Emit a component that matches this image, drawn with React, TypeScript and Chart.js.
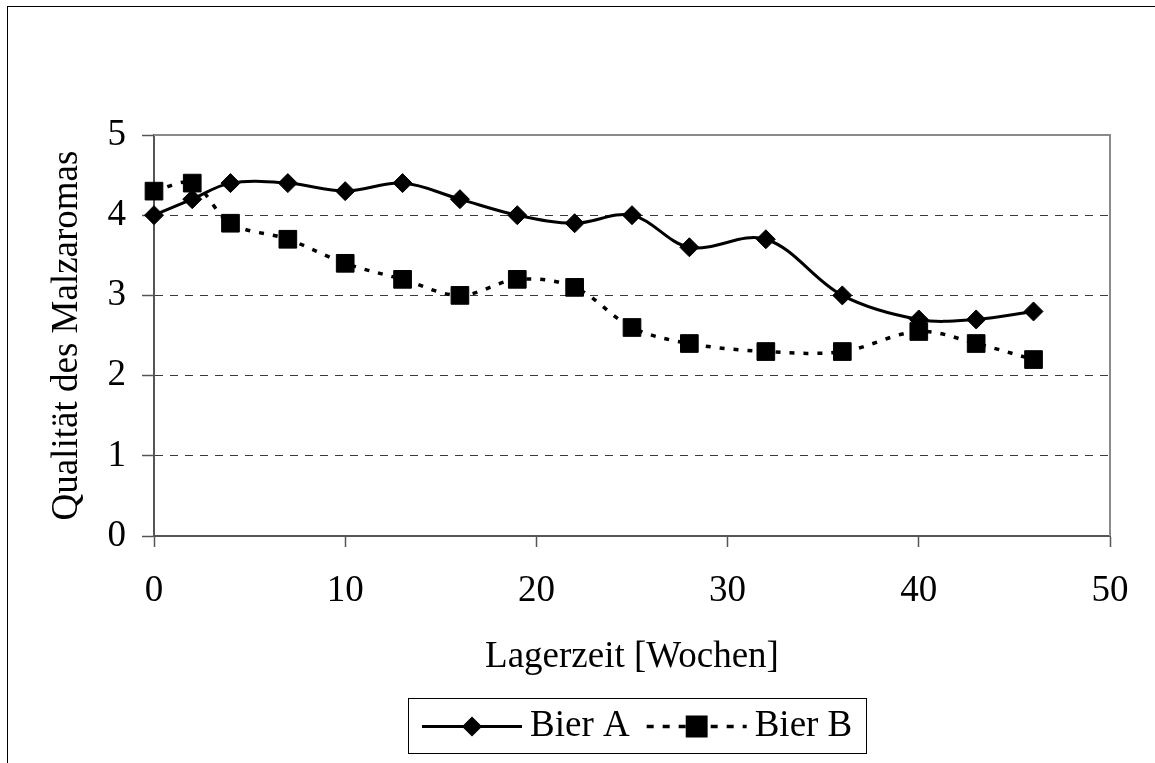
import React, { useEffect, useRef } from "react";
import { Chart, registerables } from "chart.js";
import { drawPoint } from "chart.js/helpers";

Chart.register(...registerables);

// ---- data ----
const weeks = [0, 2, 4, 7, 10, 13, 16, 19, 22, 25, 28, 32, 36, 40, 43, 46];
const bierA = [4.0, 4.2, 4.4, 4.4, 4.3, 4.4, 4.2, 4.0, 3.9, 4.0, 3.6, 3.7, 3.0, 2.7, 2.7, 2.8];
const bierB = [4.3, 4.4, 3.9, 3.7, 3.4, 3.2, 3.0, 3.2, 3.1, 2.6, 2.4, 2.3, 2.3, 2.55, 2.4, 2.2];
const seriesLabels = ["Bier A", "Bier B"];
const xTickValues = [0, 10, 20, 30, 40, 50];
const yTickValues = [0, 1, 2, 3, 4, 5];
const xTitle = "Lagerzeit [Wochen]";
const yTitle = "Qualität des Malzaromas";

const FONT_FAMILY = "'Liberation Serif', 'Times New Roman', serif";
const FONT_SIZE = 37;

const framePlugin = {
  id: "plotFrame",
  beforeDatasetsDraw(chart: any) {
    const { ctx, chartArea: ca } = chart;
    ctx.save();
    ctx.strokeStyle = "#8a8a8a";
    ctx.lineWidth = 2;
    ctx.beginPath();
    ctx.moveTo(ca.left, ca.top);
    ctx.lineTo(ca.right, ca.top);
    ctx.lineTo(ca.right, ca.bottom);
    ctx.stroke();
    ctx.restore();
  },
};

const boxLegendPlugin = {
  id: "boxLegend",
  afterDraw(chart: any, _args: any, opts: any) {
    const { ctx, chartArea: ca } = chart;
    ctx.save();
    ctx.font = `${FONT_SIZE}px ${FONT_FAMILY}`;
    const datasets = chart.data.datasets;
    const widths = datasets.map((ds: any) => ctx.measureText(ds.label).width);
    const pad = 14, symW = 100, gap = 8, itemGap = 17, boxH = 55;
    const total =
      pad * 2 +
      widths.reduce((s: number, w: number) => s + symW + gap + w, 0) +
      itemGap * (datasets.length - 1);
    const cx = (ca.left + ca.right) / 2 + 5;
    const left = Math.round(cx - total / 2);
    const top = Math.round(ca.bottom + 162);
    ctx.lineWidth = 1;
    ctx.strokeStyle = "#000";
    ctx.strokeRect(left + 0.5, top + 0.5, Math.round(total), boxH);
    const cy = top + 28.5;
    let x = left + pad;
    datasets.forEach((ds: any, i: number) => {
      ctx.save();
      ctx.strokeStyle = ds.borderColor;
      ctx.lineWidth = ds.borderWidth;
      ctx.setLineDash(opts.dashes[i] || []);
      ctx.beginPath();
      ctx.moveTo(x, cy);
      ctx.lineTo(x + symW, cy);
      ctx.stroke();
      ctx.setLineDash([]);
      ctx.fillStyle = ds.pointBackgroundColor;
      ctx.strokeStyle = ds.pointBorderColor;
      drawPoint(
        ctx,
        { pointStyle: ds.pointStyle, radius: opts.radii[i], borderWidth: 1, rotation: 0 } as any,
        x + symW / 2,
        cy
      );
      ctx.restore();
      x += symW + gap;
      ctx.fillStyle = "#000";
      ctx.textBaseline = "middle";
      ctx.textAlign = "left";
      ctx.fillText(ds.label, x, cy);
      x += widths[i] + itemGap;
    });
    ctx.restore();
  },
};

export default function App() {
  const canvasRef = useRef<HTMLCanvasElement | null>(null);

  useEffect(() => {
    if (!canvasRef.current) return;
    Chart.defaults.font.family = FONT_FAMILY;
    Chart.defaults.color = "#000";
    const tickFont = { family: FONT_FAMILY, size: FONT_SIZE, lineHeight: 1.2 };

    const chart = new Chart(canvasRef.current, {
      type: "line",
      data: {
        datasets: [
          {
            label: seriesLabels[0],
            data: weeks.map((w, i) => ({ x: w, y: bierA[i] })),
            borderColor: "#000",
            borderWidth: 3,
            pointStyle: "rectRot",
            pointRadius: 9.5,
            pointBackgroundColor: "#000",
            pointBorderColor: "#000",
            pointBorderWidth: 1,
            tension: 0.35,
            fill: false,
            clip: false as any,
          },
          {
            label: seriesLabels[1],
            data: weeks.map((w, i) => ({ x: w, y: bierB[i] })),
            borderColor: "#000",
            borderWidth: 3.5,
            borderDash: [5, 9],
            pointStyle: "rect",
            pointRadius: 12.5,
            pointBackgroundColor: "#000",
            pointBorderColor: "#000",
            pointBorderWidth: 1,
            tension: 0.35,
            fill: false,
            clip: false as any,
          },
        ],
      },
      options: {
        animation: false,
        responsive: false,
        maintainAspectRatio: false,
        events: [],
        layout: { padding: { top: 135, left: 0, right: 45, bottom: 84 } },
        plugins: {
          legend: { display: false },
          tooltip: { enabled: false },
          boxLegend: { dashes: [[], [7, 9]], radii: [8, 13] },
        } as any,
        scales: {
          x: {
            type: "linear",
            min: 0,
            max: 50,
            afterBuildTicks: (scale: any) => {
              scale.ticks = xTickValues.map((v) => ({ value: v }));
            },
            afterFit: (scale: any) => {
              scale.height = 143;
            },
            ticks: { font: tickFont, padding: 22, color: "#000", maxRotation: 0 },
            grid: {
              drawOnChartArea: false,
              tickLength: 11,
              tickColor: "#555",
              tickWidth: 1.5,
            },
            border: { display: true, color: "#555", width: 2 },
            title: {
              display: true,
              text: xTitle,
              font: tickFont,
              color: "#000",
              padding: { top: 0, bottom: 0 },
            },
          },
          y: {
            type: "linear",
            min: 0,
            max: 5,
            afterBuildTicks: (scale: any) => {
              scale.ticks = yTickValues.map((v) => ({ value: v }));
            },
            afterFit: (scale: any) => {
              scale.width = 154;
            },
            ticks: { font: tickFont, padding: 16, color: "#000" },
            grid: {
              color: (c: any) =>
                c.tick && (c.tick.value === 0 || c.tick.value === 5) ? "rgba(0,0,0,0)" : "#3a3a3a",
              lineWidth: 1,
              tickLength: 12,
              tickColor: "#555",
              tickWidth: 1.5,
            },
            border: { display: true, color: "#555", width: 2, dash: [8, 7] },
            title: {
              display: true,
              text: yTitle,
              font: tickFont,
              color: "#000",
              padding: { top: 45, bottom: 0 },
            },
          },
        },
      } as any,
      plugins: [framePlugin, boxLegendPlugin],
    });
    return () => chart.destroy();
  }, []);

  return (
    <div
      style={{
        position: "fixed",
        left: 0,
        top: 0,
        width: 1155,
        height: 763,
        overflow: "hidden",
        background: "#fff",
      }}
    >
      <div
        style={{
          position: "absolute",
          left: 7,
          top: 6,
          width: 1300,
          height: 1000,
          border: "1px solid #000",
          boxSizing: "border-box",
        }}
      />
      <canvas
        ref={canvasRef}
        width={1155}
        height={763}
        style={{ position: "absolute", left: 0, top: 0, display: "block" }}
      />
    </div>
  );
}
